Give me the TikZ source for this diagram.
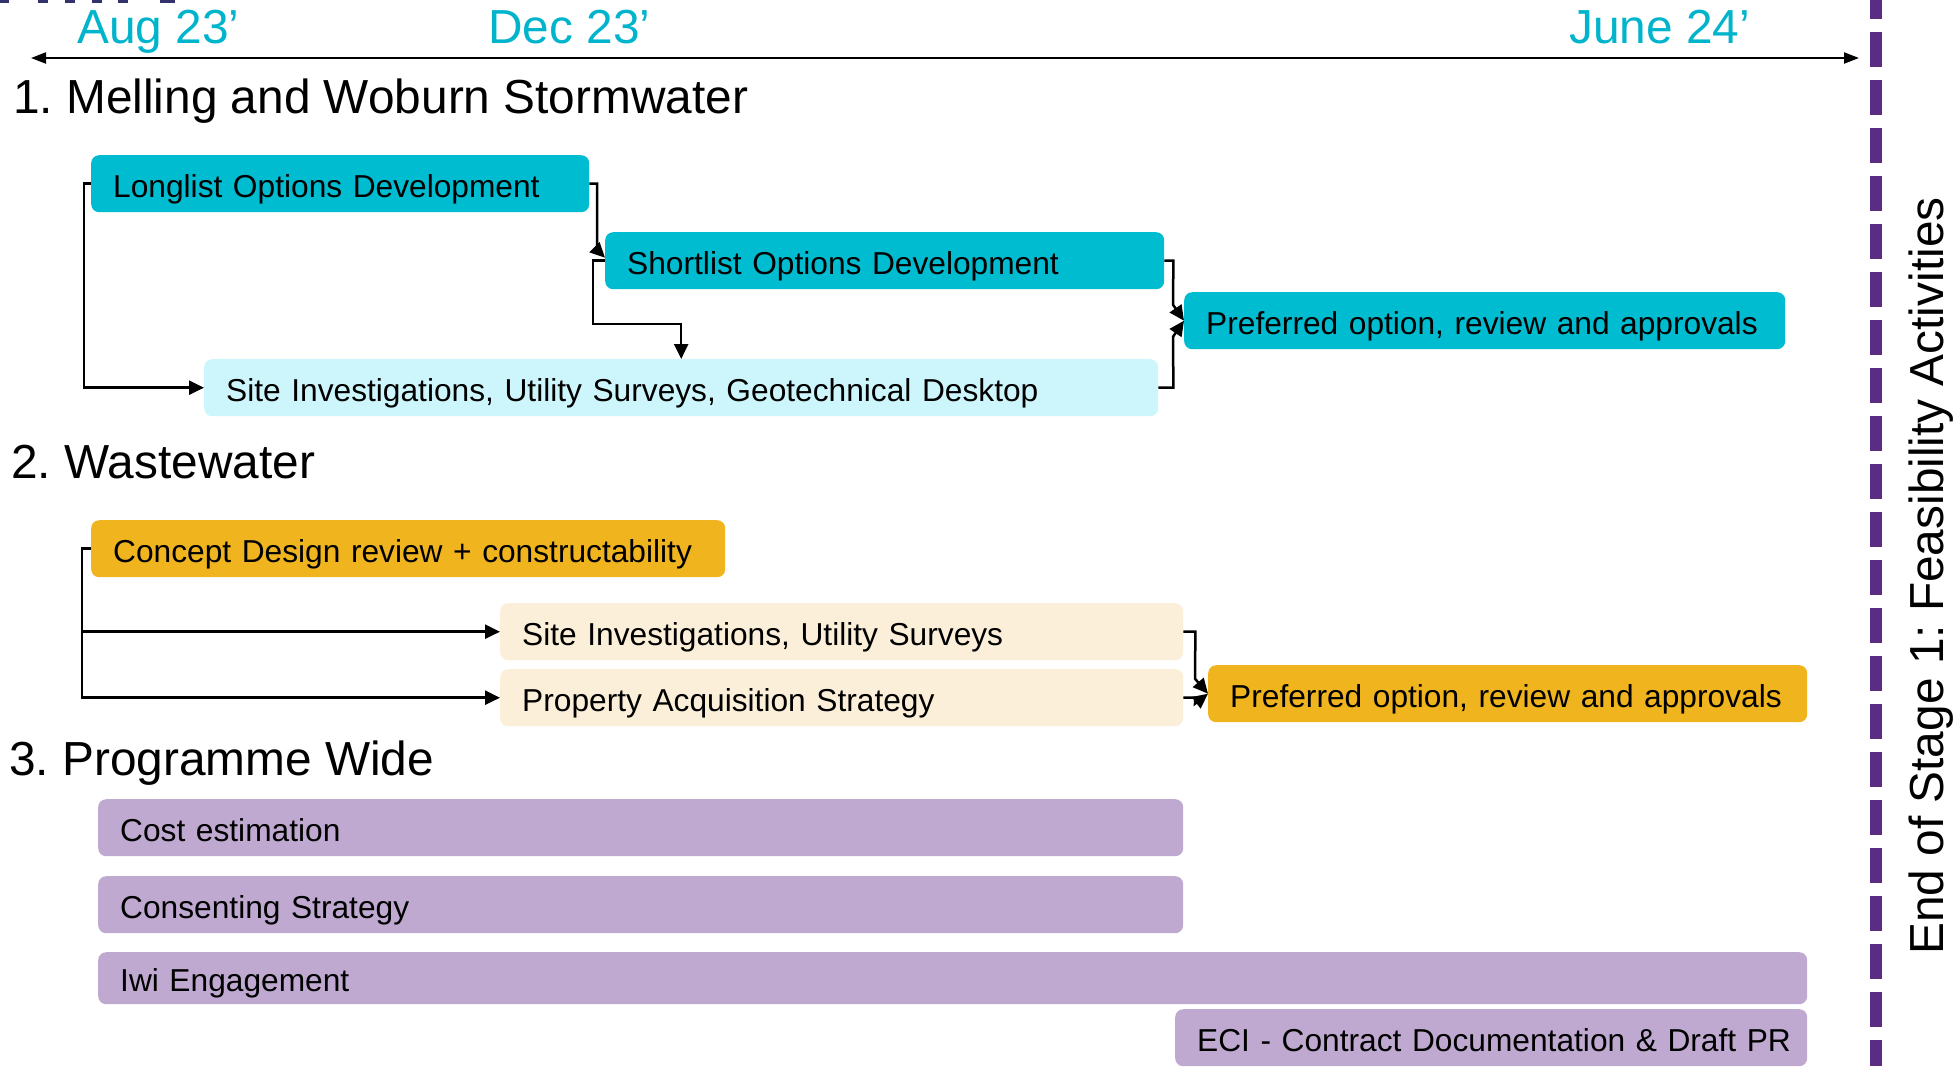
\documentclass[tikz,border=0pt]{standalone}
\usepackage{fontspec}
\setmainfont{Liberation Sans}
\usetikzlibrary{arrows.meta}
\definecolor{tealc}{HTML}{00BCD0}
\definecolor{lcyan}{HTML}{CCF6FC}
\definecolor{goldc}{HTML}{F0B41E}
\definecolor{creamc}{HTML}{FBEFD9}
\definecolor{lavc}{HTML}{BFA9D0}
\definecolor{purpc}{HTML}{5B2C84}
\definecolor{datec}{HTML}{00B4CC}
\definecolor{navyc}{HTML}{33326F}
\frenchspacing
\begin{document}
\begin{tikzpicture}[x=1pt,y=-1pt,
  box/.style={rectangle, rounded corners=8pt, inner xsep=22pt, inner ysep=0pt,
    text height=27pt, text depth=0pt, align=left, anchor=north west,
    font=\fontsize{31.7}{38}\selectfont, minimum height=57pt},
  conn/.style={line width=2.5pt, -{Triangle[length=15pt,width=14pt]}},
  hdr/.style={anchor=base west, inner sep=0pt, font=\fontsize{47.8}{56}\selectfont},
  datelbl/.style={hdr, text=datec},
  ]
\useasboundingbox (0,0) rectangle (1954,1066);
\fill[white] (0,0) rectangle (1954,1066);

% clipped fragments of a title above the picture
\fill[navyc] (0,0) rectangle (9,3);
\fill[navyc] (38,0) rectangle (48,3);
\fill[navyc] (65,0) rectangle (75,3);
\fill[navyc] (92,0) rectangle (102,3);
\fill[navyc] (118,0) rectangle (128,3);
\fill[navyc] (160,0) rectangle (175,3);

% timeline
\coordinate (tl) at (31,58);
\coordinate (tr) at (1859,58);
\draw[line width=2pt, {Triangle[length=15pt,width=11pt]}-{Triangle[length=15pt,width=11pt]}] (tl) -- (tr);
\node[datelbl] (d1) at (77,43) {Aug 23’};
\node[datelbl] (d2) at (488,43) {Dec 23’};
\node[datelbl] (d3) at (1569,43) {June 24’};

% end of stage line
\coordinate (dtop) at (1876,0);
\coordinate (dbot) at (1876,1066);
\draw[line width=12pt, purpc, dash pattern=on 35pt off 13pt, dash phase=16pt] (dtop) -- (dbot);
\node[hdr, rotate=90, anchor=base] (endlbl) at (1943,576) {End of Stage 1: Feasibility Activities};

% section headers
\node[hdr] (h1) at (13,113) {1. Melling and Woburn Stormwater};
\node[hdr] (h2) at (11,478) {2. Wastewater};
\node[hdr] (h3) at (9,775) {3. Programme Wide};

% section 1
\node[box, fill=tealc, text width=454pt] (ll) at (91,155) {\mbox{Longlist Options Development}};
\node[box, fill=tealc, text width=515pt] (sl) at (605,232) {\mbox{Shortlist Options Development}};
\node[box, fill=tealc, text width=557pt] (p1) at (1184,292) {\mbox{Preferred option, review and approvals}};
\node[box, fill=lcyan, text width=910pt] (si1) at (204,359) {\mbox{Site Investigations, Utility Surveys, Geotechnical Desktop}};

\draw[conn] (ll.west) -- ++(-7,0) |- (si1.west);
\draw[conn] (ll.east) -| ([xshift=-8pt,yshift=11pt]sl.west) -- ([yshift=3pt]sl.west);
\draw[conn] (sl.west) -- ++(-12,0) -- ++(0,63.5) -| (si1.north);
\draw[conn] (sl.east) -- ++(9,0) -- ([xshift=-11pt,yshift=16pt]p1.west) -- (p1.west);
\draw[conn] (si1.east) -- ++(15,0) -- ([xshift=-11pt,yshift=-16pt]p1.west) -- (p1.west);

% section 2
\node[box, fill=goldc, text width=590pt] (cd) at (91,520) {\mbox{Concept Design review + constructability}};
\node[box, fill=creamc, text width=639pt] (si2) at (500,603) {\mbox{Site Investigations, Utility Surveys}};
\node[box, fill=creamc, text width=639pt] (pa) at (500,669) {\mbox{Property Acquisition Strategy}};
\node[box, fill=goldc, text width=555pt] (p2) at (1208,665) {\mbox{Preferred option, review and approvals}};

\draw[conn] (cd.west) -- ++(-9,0) |- (si2.west);
\draw[conn] (cd.west) -- ++(-9,0) |- (pa.west);
\draw[conn] (si2.east) -- ++(12,0) -- ([xshift=-13pt,yshift=15pt]p2.west) -- (p2.west);
\draw[conn] (pa.east) -- ++(12,0) -- ([xshift=-13pt,yshift=-10pt]p2.west) -- (p2.west);

% section 3
\node[box, fill=lavc, text width=1041pt] (ce) at (98,799) {\mbox{Cost estimation}};
\node[box, fill=lavc, text width=1041pt] (cs) at (98,876) {\mbox{Consenting Strategy}};
\node[box, fill=lavc, text width=1665pt, minimum height=52pt] (iwi) at (98,952) {\mbox{Iwi Engagement}};
\node[box, fill=lavc, text width=588pt] (eci) at (1175,1009) {\mbox{ECI - Contract Documentation \& Draft PR}};
\end{tikzpicture}
\end{document}
